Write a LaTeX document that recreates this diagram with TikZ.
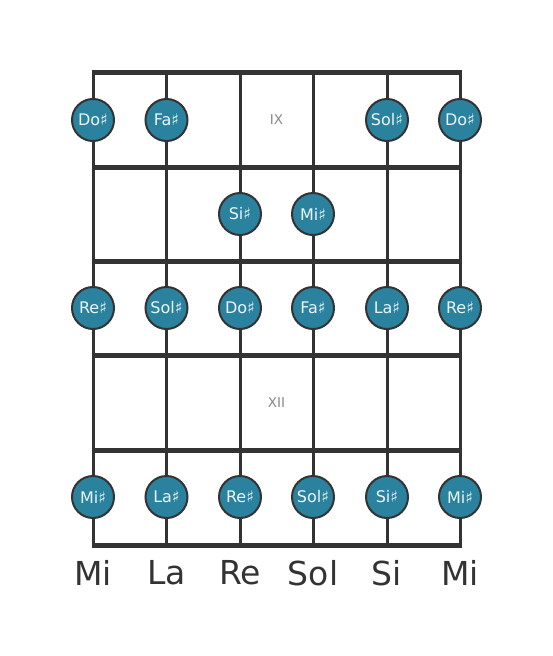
\documentclass[tikz,border=0pt]{standalone}
\usepackage{fontspec}
\setmainfont{DejaVu Sans}
\definecolor{notefill}{HTML}{2A829E}
\definecolor{linecol}{HTML}{333333}
\definecolor{numcol}{HTML}{888888}
\definecolor{notetext}{HTML}{EAF6F8}
\begin{document}
\begin{tikzpicture}[x=1pt,y=-1pt,
  note/.style={circle,fill=notefill,draw=linecol,line width=2pt,minimum size=42pt,inner sep=0pt,text=notetext,font=\fontsize{16}{16}\selectfont},
  stringline/.style={draw=linecol,line width=3pt},
  fretline/.style={draw=linecol,line width=5pt},
  openlabel/.style={text=linecol,font=\fontsize{33}{33}\selectfont},
  fretnum/.style={text=numcol,font=\fontsize{13.5}{13.5}\selectfont}]
\useasboundingbox (0,0) rectangle (553,656);
% string coordinates
\foreach \i/\x in {1/93,2/166.5,3/240,4/313,5/387,6/460}{
  \coordinate (t\i) at (\x,72);
  \coordinate (b\i) at (\x,545);
}
% strings
\foreach \i in {1,...,6}{ \draw[stringline] (t\i) -- (b\i); }
% frets
\foreach \j/\y in {0/72,1/167,2/261,3/355,4/450,5/545}{
  \coordinate (fl\j) at (91.5,\y);
  \coordinate (fr\j) at (461.5,\y);
  \draw[fretline] (fl\j) -- (fr\j);
}
% fret numbers
\node[fretnum] (n9) at (276.5,120) {IX};
\node[fretnum] (n12) at (276.5,403) {XII};
% row 1 (y=120)
\node[note] (r1a) at (93,120) {Do♯};
\node[note] (r1b) at (166.5,120) {Fa♯};
\node[note] (r1e) at (387,120) {Sol♯};
\node[note] (r1f) at (460,120) {Do♯};
% row 2 (y=214)
\node[note] (r2c) at (240,214) {Si♯};
\node[note] (r2d) at (313,214) {Mi♯};
% row 3 (y=308)
\node[note] (r3a) at (93,308) {Re♯};
\node[note] (r3b) at (166.5,308) {Sol♯};
\node[note] (r3c) at (240,308) {Do♯};
\node[note] (r3d) at (313,308) {Fa♯};
\node[note] (r3e) at (387,308) {La♯};
\node[note] (r3f) at (460,308) {Re♯};
% row 5 (y=497)
\node[note] (r5a) at (93,497) {Mi♯};
\node[note] (r5b) at (166.5,497) {La♯};
\node[note] (r5c) at (240,497) {Re♯};
\node[note] (r5d) at (313,497) {Sol♯};
\node[note] (r5e) at (387,497) {Si♯};
\node[note] (r5f) at (460,497) {Mi♯};
% open string labels
\node[openlabel] (o1) at (93,573) {Mi};
\node[openlabel] (o2) at (166.5,573) {La};
\node[openlabel] (o3) at (240,573) {Re};
\node[openlabel] (o4) at (313,573) {Sol};
\node[openlabel] (o5) at (387,573) {Si};
\node[openlabel] (o6) at (460,573) {Mi};
\end{tikzpicture}
\end{document}
